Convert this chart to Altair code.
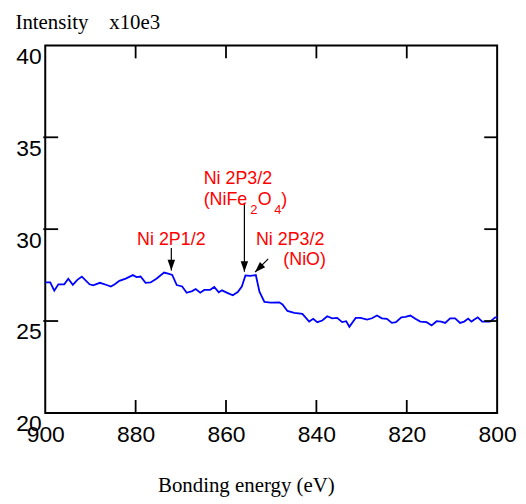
import altair as alt
import pandas as pd

# ---- data ----
energy = [900.0, 898.9, 898.0, 897.1, 895.8, 894.9, 893.9, 892.9, 891.9, 890.2,
          889.4, 887.9, 886.4, 885.5, 884.6, 883.6, 882.2, 880.6, 879.8, 878.9,
          877.8, 876.7, 875.4, 873.7, 872.8, 871.9, 870.9, 869.7, 868.7, 867.5,
          866.7, 865.7, 864.8, 863.5, 862.6, 861.6, 860.9, 859.6, 858.5, 857.4,
          856.5, 855.7, 854.7, 853.4, 852.6, 851.5, 850.1, 848.2, 847.5, 846.4,
          844.9, 843.1, 841.6, 840.7, 839.8, 838.7, 837.6, 836.5, 835.4, 834.3,
          833.4, 832.7, 831.3, 830.2, 828.8, 827.7, 826.6, 825.5, 824.4, 823.3,
          822.4, 821.2, 820.3, 819.2, 818.1, 817.0, 815.6, 814.5, 813.4, 812.4,
          811.5, 810.4, 809.3, 808.2, 807.3, 806.4, 805.7, 804.3, 803.3, 801.6,
          800.4, 800.0]
intensity = [27.1, 27.1, 26.65, 27.0, 27.0, 27.3, 26.97, 27.24, 27.42, 27.0,
             26.94, 27.08, 26.96, 26.88, 27.0, 27.19, 27.31, 27.5, 27.39, 27.42,
             27.08, 27.1, 27.3, 27.64, 27.58, 27.51, 26.96, 26.88, 26.54, 26.63,
             26.74, 26.54, 26.69, 26.7, 26.85, 26.56, 26.67, 26.52, 26.4, 26.58,
             26.88, 27.48, 27.46, 27.5, 26.6, 26.04, 26.0, 26.02, 25.9, 25.55,
             25.44, 25.39, 24.97, 25.12, 24.94, 25.03, 25.26, 25.15, 25.17, 24.94,
             24.99, 24.69, 25.17, 25.17, 25.08, 25.15, 25.3, 25.15, 25.12, 24.9,
             24.94, 25.2, 25.23, 25.3, 25.12, 24.97, 24.94, 24.76, 24.99, 24.97,
             24.9, 25.15, 25.15, 24.9, 24.97, 25.13, 24.97, 25.2, 24.97, 24.97,
             25.2, 25.2]

x_ticks = [900, 880, 860, 840, 820, 800]
y_ticks = [20, 25, 30, 35, 40]

# annotation texts (main size)
ann_text = ["Ni 2P1/2", "Ni 2P3/2", "(NiFe", "O", ")", "Ni 2P3/2", "(NiO)"]
ann_x = [872.1, 864.95, 864.95, 852.97, 847.8, 845.8, 842.6]
ann_y = [29.14, 32.47, 31.30, 31.30, 31.30, 29.14, 28.05]
ann_align = ["center", "left", "left", "left", "left", "center", "center"]
# subscripts
sub_text = ["2", "4"]
sub_x = [854.62, 849.34]
sub_y = [30.85, 30.85]

# arrows: start -> tip
arr_x1 = [872.1, 855.93, 850.66]
arr_y1 = [28.97, 31.42, 28.38]
arr_x2 = [872.1, 855.93, 853.58]
arr_y2 = [27.75, 27.68, 27.66]
arr_angle = [0, 0, 45]

SANS = "Liberation Sans, Arial, sans-serif"
SERIF = "Liberation Serif, Times New Roman, serif"

xs = alt.Scale(domain=[800, 900], reverse=True, nice=False, zero=False)
ys = alt.Scale(domain=[20, 40], nice=False, zero=False)

df = pd.DataFrame({"E": energy, "I": intensity})

x_axis = alt.Axis(values=x_ticks, title="Bonding energy (eV)", grid=False, domain=False,
                  ticks=False, labelPadding=11, labelFlush=False, labelFontSize=23,
                  labelFont=SANS, labelColor="black", titleFont=SERIF, titleFontSize=21,
                  titleFontWeight="normal", titleColor="black", titleX=202, titleY=79,
                  titleAlign="center", titleBaseline="alphabetic")
y_axis = alt.Axis(values=y_ticks, title="Intensity\u00a0\u00a0\u00a0\u00a0x10e3", grid=False,
                  domain=False, ticks=False, labelPadding=4, labelBaseline="top",
                  labelFontSize=23, labelFont=SANS, labelColor="black", titleFont=SERIF,
                  titleFontSize=21, titleFontWeight="normal", titleColor="black",
                  titleAngle=0, titleX=-30.5, titleY=-17, titleAlign="left",
                  titleBaseline="alphabetic")

line = alt.Chart(df).mark_line(color="#0000ff", strokeWidth=1.8).encode(
    x=alt.X("E:Q", scale=xs, axis=x_axis),
    y=alt.Y("I:Q", scale=ys, axis=y_axis),
)

yt = pd.DataFrame({"v": y_ticks[1:-1]})
xt = pd.DataFrame({"e": x_ticks[1:-1]})

left_ticks = alt.Chart(yt).mark_rule(color="black", strokeWidth=1.8).encode(
    y=alt.Y("v:Q", scale=ys), x=alt.value(-2), x2=alt.value(13))
right_ticks = alt.Chart(yt).mark_rule(color="black", strokeWidth=1.8).encode(
    y=alt.Y("v:Q", scale=ys), x=alt.value(442), x2=alt.value(455))
top_ticks = alt.Chart(xt).mark_rule(color="black", strokeWidth=1.8).encode(
    x=alt.X("e:Q", scale=xs), y=alt.value(0), y2=alt.value(13))
bot_ticks = alt.Chart(xt).mark_rule(color="black", strokeWidth=1.8).encode(
    x=alt.X("e:Q", scale=xs), y=alt.value(357), y2=alt.value(370))

ann_df = pd.DataFrame({"t": ann_text, "x": ann_x, "y": ann_y, "a": ann_align})
texts = []
for al in ["left", "center"]:
    texts.append(
        alt.Chart(ann_df[ann_df.a == al]).mark_text(
            align=al, baseline="alphabetic", font=SANS, fontSize=18, color="#ff0000"
        ).encode(x=alt.X("x:Q", scale=xs), y=alt.Y("y:Q", scale=ys), text="t:N")
    )
sub_df = pd.DataFrame({"t": sub_text, "x": sub_x, "y": sub_y})
subs = alt.Chart(sub_df).mark_text(
    align="left", baseline="alphabetic", font=SANS, fontSize=13, color="#ff0000"
).encode(x=alt.X("x:Q", scale=xs), y=alt.Y("y:Q", scale=ys), text="t:N")

arr_df = pd.DataFrame({"x1": arr_x1, "y1": arr_y1, "x2": arr_x2, "y2": arr_y2, "ang": arr_angle})
arr_lines = alt.Chart(arr_df).mark_rule(color="black", strokeWidth=1.2).encode(
    x=alt.X("x1:Q", scale=xs), y=alt.Y("y1:Q", scale=ys), x2="x2:Q", y2="y2:Q")
arr_heads = alt.Chart(arr_df).mark_point(
    shape="M0,0 L-0.35,-1 L0.35,-1 Z", filled=True, color="black", opacity=1, size=460
).encode(x=alt.X("x2:Q", scale=xs), y=alt.Y("y2:Q", scale=ys),
         angle=alt.Angle("ang:Q", scale=None))

chart = alt.layer(
    line, left_ticks, right_ticks, top_ticks, bot_ticks, arr_lines, arr_heads, *texts, subs
).properties(
    width=455, height=370,
    autosize=alt.AutoSizeParams(type="none"),
    padding={"left": 37.5, "top": 36, "right": 21, "bottom": 83},
).configure_view(stroke="black", strokeWidth=2)

chart.save("out.html", embed_options={"renderer": "svg", "actions": False})
